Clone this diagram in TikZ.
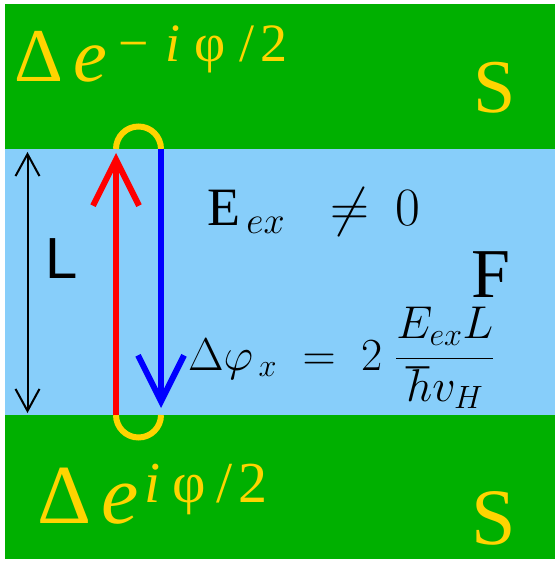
\RequirePackage{fix-cm}
\documentclass[tikz,border=0pt]{standalone}
\usepackage{fontspec}
\setmainfont{Liberation Serif}
\setsansfont{Liberation Sans}
\newfontfamily\tnr{Liberation Serif}
\usetikzlibrary{arrows.meta}
\definecolor{scgreen}{RGB}{0,176,0}
\definecolor{fblue}{RGB}{135,206,250}
\definecolor{pgold}{RGB}{255,212,0}
\tikzset{
  gtext/.style={text=pgold, inner sep=0pt, font=\tnr},
  btext/.style={text=black, inner sep=0pt, font=\tnr},
  bigtip/.style={-{Straight Barb[length=46pt,width=46pt]}, line width=6pt},
  loop/.style={draw=pgold, line width=6pt}
}
\begin{document}
\begin{tikzpicture}[x=1pt,y=-1pt]
    \useasboundingbox (0,0) rectangle (555,561);
    \fill[scgreen] (5,4) rectangle (555,559);
    \fill[fblue] (5,149) rectangle (555,415);
    \coordinate (redBot) at (116,415);
    \coordinate (redTop) at (116,153);
    \coordinate (blueTop) at (161,149);
    \coordinate (blueBot) at (161,408);
    \coordinate (lTop) at (27.5,152);
    \coordinate (lBot) at (27.5,413);
    \draw[loop] (116,149) arc[start angle=180, end angle=0, radius=22.5pt];
    \draw[loop] (116,415) arc[start angle=180, end angle=360, radius=22.5pt];
    \draw[bigtip, red] (redBot) -- (redTop);
    \draw[bigtip, blue] (blueTop) -- (blueBot);
    \draw[{Straight Barb[length=22pt,width=24pt]}-{Straight Barb[length=22pt,width=24pt]}, line width=2pt] (lTop) -- (lBot);
    \node[btext, anchor=base] (lenL) at (62,278) {\sffamily\fontsize{58}{60}\selectfont L};
    \node[gtext, anchor=base west] (phaseTop) at (14,82) {\fontsize{76}{80}\selectfont Δ\hspace{10pt}\textit{e}\hspace{12pt}\raisebox{20pt}{\fontsize{54}{56}\selectfont −\hspace{16pt}\textit{i}\hspace{14pt}φ\hspace{14pt}/\hspace{6pt}2}};
    \node[gtext, anchor=base west] (phaseBot) at (37,523) {\fontsize{84}{88}\selectfont Δ\hspace{10pt}\textit{e}\hspace{6pt}\raisebox{21pt}{\fontsize{58}{60}\selectfont \textit{i}\hspace{12pt}φ\hspace{10pt}/\hspace{6pt}2}};
    \node[gtext, anchor=base] (sTop) at (495,113) {\fontsize{76}{78}\selectfont S};
    \node[gtext, anchor=base] (sBot) at (494,544) {\fontsize{80}{82}\selectfont S};
    \node[btext, anchor=base] (ferro) at (491,297) {\fontsize{70}{72}\selectfont F};
    \node[btext, anchor=base west] (exch) at (207,225) {\fontsize{54}{56}\selectfont $\mathrm{E}_{\,ex}\;\;\neq\mkern4mu 0$};
    \node[btext, anchor=base west] (dphi) at (188,370) {\fontsize{46}{48}\selectfont $\Delta\varphi_{\,x}\;=\;2\;{\displaystyle\frac{E_{ex}L}{\hbar v_H}}$};
\end{tikzpicture}
\end{document}
